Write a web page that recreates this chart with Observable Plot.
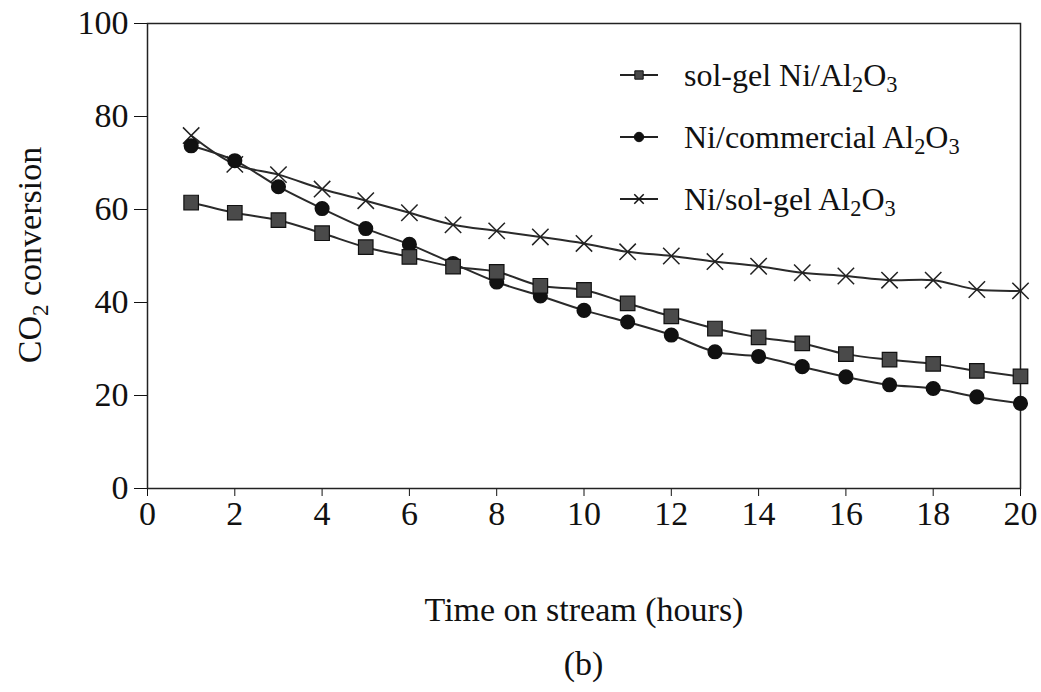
<!DOCTYPE html>
<html><head><meta charset="utf-8">
<script src="https://cdn.jsdelivr.net/npm/d3@7"></script>
<script src="https://cdn.jsdelivr.net/npm/@observablehq/plot@0.6"></script>
<style>
body{margin:0;background:#fff;font-family:"Liberation Serif","Times New Roman",serif;}
#wrap{position:relative;width:1041px;height:692px;}
#legend{position:absolute;left:620px;top:44px;font-size:32px;color:#111;}
#legend .row{display:flex;align-items:center;height:62px;}
#legend svg{margin-right:26px;}
#cap{position:absolute;left:0;width:1167px;top:645px;text-align:center;font-size:34px;color:#111;}
sub{font-size:0.7em;vertical-align:-0.25em;line-height:0;}
</style></head>
<body><div id="wrap"><div id="chart"></div>
<div id="legend"></div>
<div id="cap">(b)</div></div>
<script>
const hours = [1,2,3,4,5,6,7,8,9,10,11,12,13,14,15,16,17,18,19,20];
const solGelNiAl2O3 = [61.5,59.3,57.7,54.9,51.9,49.8,47.7,46.6,43.6,42.7,39.8,37.0,34.4,32.5,31.2,28.9,27.7,26.8,25.3,24.1];
const niCommercialAl2O3 = [73.7,70.5,64.9,60.2,55.9,52.5,48.4,44.4,41.4,38.3,35.8,33.0,29.4,28.4,26.2,24.0,22.3,21.5,19.7,18.3];
const niSolGelAl2O3 = [75.9,69.7,67.5,64.4,61.9,59.3,56.7,55.4,54.1,52.7,50.9,50.0,48.8,47.8,46.4,45.7,44.8,44.8,42.8,42.5];
const xTicks = [0,2,4,6,8,10,12,14,16,18,20];
const yTicks = [0,20,40,60,80,100];

const rows = s => hours.map((h,i)=>({h, v:s[i]}));
const sq = rows(solGelNiAl2O3), ci = rows(niCommercialAl2O3), cr = rows(niSolGelAl2O3);
const lineOpts = {x:"h", y:"v", stroke:"#2a2a2a", strokeWidth:2, curve:"catmull-rom"};

const plot = Plot.plot({
  width:1041, height:640,
  marginLeft:147, marginRight:21, marginTop:23, marginBottom:152,
  style:{fontFamily:"Liberation Serif, Times New Roman, serif", fontSize:"34px", color:"#111", background:"#fff"},
  x:{domain:[0,20], ticks:xTicks, tickSize:8, tickPadding:4, label:"Time on stream (hours)", labelAnchor:"center", labelOffset:132, labelArrow:false},
  y:{domain:[0,100], ticks:yTicks, tickSize:13, tickPadding:6, label:null},
  marks:[
    Plot.frame({stroke:"#222", strokeWidth:1.5}),
    Plot.line(cr, lineOpts),
    Plot.line(ci, lineOpts),
    Plot.line(sq, lineOpts),
    Plot.dot(cr, {x:"h", y:"v", symbol:"times", r:7.5, stroke:"#222", strokeWidth:1.5}),
    Plot.dot(ci, {x:"h", y:"v", symbol:"circle", r:6.8, fill:"#111", stroke:"#111"}),
    Plot.dot(sq, {x:"h", y:"v", symbol:"square", r:8.2, fill:"#4a4a4a", stroke:"#111", strokeWidth:1.2})
  ]
});
document.getElementById("chart").appendChild(plot);

// y axis label with subscript
const svg = d3.select(plot);
const t = svg.append("text")
  .attr("transform","translate(41,255) rotate(-90)")
  .attr("text-anchor","middle")
  .attr("font-size","34px").attr("fill","#111");
t.append("tspan").text("CO");
t.append("tspan").attr("font-size","23px").attr("dy","7").text("2");
t.append("tspan").attr("dy","-7").text(" conversion");

// legend
const series = [
  {name:"sol-gel Ni/Al<sub>2</sub>O<sub>3</sub>", symbol:"square"},
  {name:"Ni/commercial Al<sub>2</sub>O<sub>3</sub>", symbol:"circle"},
  {name:"Ni/sol-gel Al<sub>2</sub>O<sub>3</sub>", symbol:"times"}
];
const leg = d3.select("#legend");
series.forEach(s=>{
  const row = leg.append("div").attr("class","row");
  const sw = row.append("svg").attr("width",38).attr("height",20);
  sw.append("line").attr("x1",0).attr("x2",38).attr("y1",10).attr("y2",10).attr("stroke","#222").attr("stroke-width",1.8);
  const sym = {square:d3.symbolSquare, circle:d3.symbolCircle, times:d3.symbolTimes}[s.symbol];
  const size = s.symbol==="times"?60:70;
  sw.append("path").attr("transform","translate(19,10)").attr("d",d3.symbol(sym,size)())
    .attr("fill", s.symbol==="times"?"none":(s.symbol==="square"?"#4a4a4a":"#111"))
    .attr("stroke","#111").attr("stroke-width", s.symbol==="times"?1.5:1);
  row.append("span").html(s.name);
});
</script></body></html>
